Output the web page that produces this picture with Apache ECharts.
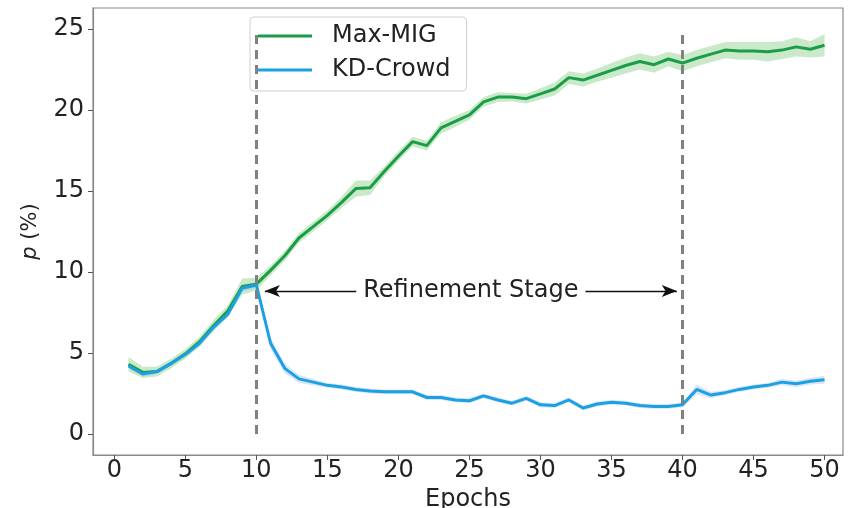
<!DOCTYPE html>
<html><head><meta charset="utf-8">
<script src="https://cdn.jsdelivr.net/npm/echarts@6/dist/echarts.min.js"></script>
<style>html,body{margin:0;padding:0;background:#fff}#c{width:849px;height:508px}</style>
</head><body><div id="c"></div>
<script>
const epochs = [1,2,3,4,5,6,7,8,9,10,11,12,13,14,15,16,17,18,19,20,21,22,23,24,25,26,27,28,29,30,31,32,33,34,35,36,37,38,39,40,41,42,43,44,45,46,47,48,49,50];
const maxMIG = [4.3,3.8,3.85,4.35,4.95,5.7,6.7,7.6,9.1,9.25,10.1,11.0,12.1,12.8,13.5,14.3,15.15,15.2,16.2,17.15,18.05,17.8,18.9,19.3,19.7,20.5,20.8,20.8,20.7,21.0,21.3,22.0,21.85,22.15,22.45,22.75,23.0,22.8,23.15,22.9,23.2,23.45,23.7,23.65,23.65,23.6,23.7,23.9,23.75,24.0];
const maxMIGSpread = [0.45,0.35,0.3,0.3,0.3,0.3,0.35,0.35,0.5,0.4,0.3,0.3,0.3,0.3,0.3,0.35,0.5,0.45,0.3,0.3,0.3,0.3,0.35,0.35,0.3,0.3,0.3,0.25,0.3,0.35,0.4,0.4,0.4,0.4,0.45,0.5,0.5,0.5,0.45,0.5,0.5,0.5,0.5,0.55,0.55,0.6,0.55,0.6,0.5,0.7];
const kdCrowd = [4.2,3.7,3.85,4.36,4.9,5.6,6.6,7.4,9.0,9.2,5.6,4.05,3.4,3.2,3.0,2.9,2.75,2.65,2.6,2.6,2.6,2.25,2.25,2.1,2.05,2.35,2.1,1.9,2.2,1.8,1.75,2.1,1.6,1.85,1.95,1.9,1.75,1.7,1.7,1.8,2.75,2.4,2.55,2.75,2.9,3.0,3.2,3.1,3.25,3.35];
const kdCrowdSpread = [0.15,0.15,0.15,0.15,0.15,0.15,0.15,0.15,0.2,0.2,0.35,0.3,0.25,0.2,0.15,0.15,0.15,0.15,0.15,0.15,0.15,0.15,0.15,0.15,0.15,0.15,0.15,0.15,0.15,0.15,0.15,0.15,0.15,0.15,0.15,0.15,0.15,0.15,0.15,0.15,0.3,0.2,0.15,0.15,0.15,0.15,0.2,0.2,0.2,0.25];
const xTicks = [0,5,10,15,20,25,30,35,40,45,50];
const yTicks = [0,5,10,15,20,25];
const stageStart = 10, stageEnd = 40;
const stageLabel = 'Refinement Stage';
const stageLevel = 8.83;
const seriesNames = ['Max-MIG', 'KD-Crowd'];

const FONT = 'DejaVu Sans';
const GREEN = '#1a9c48';
const BLUE = '#1ba1e2';

function bandSeries(vals, spread, color) {
  return {
    type: 'custom',
    silent: true,
    data: [[epochs[0], vals[0]]],
    renderItem: function (params, api) {
      const up = epochs.map((e, i) => api.coord([e, vals[i] + spread[i]]));
      const lo = epochs.map((e, i) => api.coord([e, vals[i] - spread[i]])).reverse();
      return { type: 'polygon', shape: { points: up.concat(lo) }, style: { fill: color } };
    },
    z: 1
  };
}

const chart = echarts.init(document.getElementById('c'), null, { renderer: 'canvas' });
chart.setOption({
  animation: false,
  backgroundColor: '#fff',
  textStyle: { fontFamily: FONT },
  grid: { left: 93, top: 8, right: 6, bottom: 53, containLabel: false, outerBoundsMode: 'none', show: true, borderColor: '#8a8a8a', borderWidth: 1.2 },
  legend: {
    orient: 'vertical', left: 250, top: 17,
    padding: [6, 16, 8, 8], itemGap: 8,
    borderColor: '#d0d0d0', borderWidth: 1, borderRadius: 4, backgroundColor: '#fff',
    itemWidth: 54, itemHeight: 3,
    textStyle: { fontFamily: FONT, fontSize: 24, lineHeight: 26, color: '#222', padding: [0, 0, 0, 15] },
    data: [{ name: seriesNames[0], icon: 'rect' }, { name: seriesNames[1], icon: 'rect' }]
  },
  xAxis: {
    type: 'value', min: -1.5, max: 51.3,
    name: 'Epochs', nameLocation: 'middle', nameGap: 27,
    nameTextStyle: { fontFamily: FONT, fontSize: 24, color: '#222' },
    splitLine: { show: false },
    axisLine: { show: true, onZero: false, lineStyle: { color: '#8a8a8a', width: 1.2 } },
    axisTick: { show: true, length: 5, customValues: xTicks, lineStyle: { color: '#555' } },
    axisLabel: { customValues: xTicks, fontFamily: FONT, fontSize: 24, color: '#222', margin: 4 }
  },
  yAxis: {
    type: 'value', min: -1.3, max: 26.3,
    name: '{i|p} (%)', nameLocation: 'middle', nameGap: 52, nameRotate: 90,
    nameTextStyle: { fontFamily: FONT, fontSize: 21, color: '#222', rich: { i: { fontFamily: FONT, fontSize: 21, fontStyle: 'italic', color: '#222' } } },
    splitLine: { show: false },
    axisLine: { show: true, onZero: false, lineStyle: { color: '#8a8a8a', width: 1.2 } },
    axisTick: { show: true, length: 5, customValues: yTicks, lineStyle: { color: '#555' } },
    axisLabel: { customValues: yTicks, fontFamily: FONT, fontSize: 24, color: '#222', margin: 9 }
  },
  series: [
    bandSeries(maxMIG, maxMIGSpread, 'rgba(120,200,120,0.4)'),
    bandSeries(kdCrowd, kdCrowdSpread, 'rgba(150,180,240,0.35)'),
    {
      name: seriesNames[0], type: 'line', showSymbol: false, symbol: 'none',
      data: epochs.map((e, i) => [e, maxMIG[i]]),
      lineStyle: { color: GREEN, width: 3 }, itemStyle: { color: GREEN }, z: 3
    },
    {
      name: seriesNames[1], type: 'line', showSymbol: false, symbol: 'none',
      data: epochs.map((e, i) => [e, kdCrowd[i]]),
      lineStyle: { color: BLUE, width: 3 }, itemStyle: { color: BLUE }, z: 4,
      markLine: {
        silent: true, animation: false, z: 6,
        data: [
          [{ coord: [stageStart, 0], symbol: 'none', lineStyle: { color: '#808080', width: 3, type: [9, 6] }, label: { show: false } },
           { coord: [stageStart, 25], symbol: 'none' }],
          [{ coord: [stageEnd, 0], symbol: 'none', lineStyle: { color: '#808080', width: 3, type: [9, 6] }, label: { show: false } },
           { coord: [stageEnd, 25], symbol: 'none' }],
          [{ coord: [stageStart + 0.6, stageLevel], symbol: 'arrow', symbolSize: [9, 15],
             lineStyle: { color: '#111', width: 1.3, type: 'solid' },
             label: { show: true, position: 'insideMiddle', distance: 0, formatter: stageLabel, fontFamily: FONT, fontSize: 24, color: '#222', backgroundColor: '#fff', padding: [2, 7] } },
           { coord: [stageEnd - 0.4, stageLevel], symbol: 'arrow', symbolSize: [9, 15] }]
        ]
      }
    }
  ]
});
</script></body></html>
